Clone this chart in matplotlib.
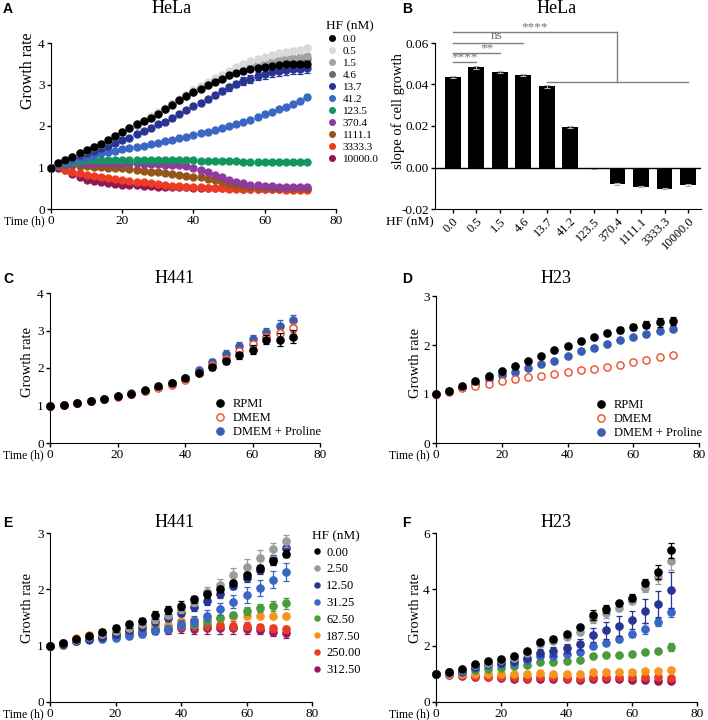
import matplotlib
matplotlib.use("Agg")
import matplotlib.pyplot as plt

plt.rcParams['font.family'] = ['Liberation Serif', 'DejaVu Serif']

# ---------------- data ----------------
t2 = list(range(0, 73, 2))
t4 = list(range(0, 73, 4))

# panel A: HeLa growth, HF (nM)
hf_a = ['0.0', '0.5', '1.5', '4.6', '13.7', '41.2', '123.5', '370.4', '1111.1', '3333.3', '10000.0']
col_a = ['#000000', '#d9d9d9', '#a3a3a3', '#6d6d6d', '#283593', '#3a66c4',
         '#12965e', '#8e3a9e', '#96561a', '#ee3b24', '#921654']
a_00 = [1.00, 1.12, 1.19, 1.26, 1.36, 1.42, 1.50, 1.56, 1.66, 1.76,
        1.85, 1.94, 2.04, 2.11, 2.20, 2.30, 2.40, 2.51, 2.62, 2.72,
        2.82, 2.90, 2.98, 3.06, 3.14, 3.22, 3.28, 3.33, 3.37, 3.40,
        3.43, 3.45, 3.47, 3.49, 3.49, 3.50, 3.50]
a_05 = [1.00, 1.12, 1.19, 1.26, 1.36, 1.42, 1.50, 1.57, 1.66, 1.76,
        1.86, 1.95, 2.05, 2.13, 2.23, 2.33, 2.43, 2.54, 2.64, 2.75,
        2.86, 2.97, 3.06, 3.15, 3.24, 3.33, 3.42, 3.50, 3.56, 3.62,
        3.67, 3.71, 3.75, 3.78, 3.81, 3.84, 3.87]
a_15 = [1.00, 1.12, 1.19, 1.26, 1.36, 1.42, 1.50, 1.57, 1.66, 1.76,
        1.86, 1.95, 2.04, 2.12, 2.22, 2.32, 2.42, 2.53, 2.63, 2.74,
        2.84, 2.93, 3.02, 3.10, 3.18, 3.25, 3.32, 3.38, 3.44, 3.49,
        3.53, 3.57, 3.60, 3.63, 3.65, 3.67, 3.68]
a_46 = [1.00, 1.12, 1.19, 1.26, 1.36, 1.42, 1.50, 1.57, 1.66, 1.75,
        1.85, 1.94, 2.03, 2.11, 2.21, 2.31, 2.41, 2.52, 2.62, 2.73,
        2.83, 2.92, 3.00, 3.08, 3.16, 3.23, 3.30, 3.36, 3.41, 3.46,
        3.50, 3.53, 3.56, 3.58, 3.60, 3.61, 3.62]
a_137 = [1.00, 1.10, 1.18, 1.24, 1.30, 1.35, 1.40, 1.46, 1.52, 1.60,
         1.66, 1.72, 1.80, 1.88, 1.96, 2.04, 2.10, 2.20, 2.30, 2.38,
         2.48, 2.56, 2.65, 2.74, 2.85, 2.93, 3.01, 3.08, 3.14, 3.20,
         3.25, 3.29, 3.33, 3.34, 3.37, 3.38, 3.40]
a_412 = [1.00, 1.08, 1.13, 1.18, 1.22, 1.26, 1.30, 1.34, 1.37, 1.40,
         1.45, 1.47, 1.50, 1.53, 1.56, 1.60, 1.63, 1.66, 1.70, 1.74,
         1.78, 1.82, 1.86, 1.90, 1.95, 2.00, 2.05, 2.10, 2.15, 2.21,
         2.28, 2.34, 2.40, 2.46, 2.53, 2.61, 2.70]
a_1235 = [1.00, 1.08, 1.12, 1.14, 1.16, 1.17, 1.18, 1.18, 1.18, 1.18,
          1.18, 1.18, 1.18, 1.18, 1.18, 1.18, 1.18, 1.18, 1.17, 1.17,
          1.17, 1.16, 1.16, 1.16, 1.15, 1.15, 1.15, 1.14, 1.14, 1.14,
          1.14, 1.13, 1.13, 1.13, 1.13, 1.13, 1.13]
a_3704 = [1.00, 1.06, 1.08, 1.09, 1.10, 1.10, 1.10, 1.10, 1.10, 1.10,
          1.10, 1.10, 1.10, 1.09, 1.09, 1.08, 1.07, 1.06, 1.05, 1.03,
          1.00, 0.95, 0.89, 0.82, 0.76, 0.70, 0.65, 0.62, 0.59, 0.57,
          0.56, 0.55, 0.54, 0.53, 0.53, 0.52, 0.52]
a_11111 = [1.00, 1.05, 1.06, 1.05, 1.04, 1.03, 1.02, 1.01, 1.00, 0.99,
           0.98, 0.96, 0.94, 0.92, 0.90, 0.88, 0.86, 0.84, 0.82, 0.80,
           0.78, 0.76, 0.73, 0.69, 0.65, 0.61, 0.58, 0.56, 0.54, 0.53,
           0.52, 0.51, 0.51, 0.50, 0.50, 0.50, 0.50]
a_33333 = [1.00, 1.03, 0.95, 0.90, 0.86, 0.82, 0.79, 0.76, 0.74, 0.72,
           0.70, 0.68, 0.66, 0.64, 0.62, 0.60, 0.58, 0.56, 0.55, 0.54,
           0.53, 0.52, 0.51, 0.50, 0.50, 0.49, 0.49, 0.48, 0.48, 0.48,
           0.47, 0.47, 0.47, 0.46, 0.46, 0.46, 0.46]
a_100000 = [1.00, 1.00, 0.93, 0.84, 0.76, 0.70, 0.67, 0.64, 0.62, 0.60,
            0.59, 0.58, 0.57, 0.56, 0.55, 0.54, 0.53, 0.53, 0.52, 0.52,
            0.51, 0.51, 0.50, 0.50, 0.50, 0.50, 0.50, 0.49, 0.49, 0.49,
            0.49, 0.49, 0.49, 0.48, 0.48, 0.48, 0.48]
e_a05 = [0.00, 0.01, 0.01, 0.01, 0.01, 0.01, 0.01, 0.01, 0.01, 0.01,
         0.01, 0.01, 0.02, 0.02, 0.02, 0.02, 0.02, 0.02, 0.03, 0.03,
         0.03, 0.03, 0.03, 0.04, 0.04, 0.04, 0.04, 0.05, 0.05, 0.05,
         0.05, 0.05, 0.05, 0.06, 0.06, 0.06, 0.06]
e_a137 = [0.00, 0.01, 0.01, 0.01, 0.01, 0.01, 0.01, 0.01, 0.02, 0.02,
          0.02, 0.02, 0.02, 0.02, 0.03, 0.03, 0.03, 0.03, 0.04, 0.04,
          0.05, 0.05, 0.06, 0.06, 0.07, 0.08, 0.08, 0.09, 0.10, 0.10,
          0.11, 0.11, 0.12, 0.12, 0.12, 0.13, 0.13]
vals_a = [a_00, a_05, a_15, a_46, a_137, a_412, a_1235, a_3704, a_11111, a_33333, a_100000]
errs_a = [None, e_a05, None, None, e_a137, None, None, None, None, None, None]

# panel B: slope of cell growth
slope_b = [0.0436, 0.0482, 0.0459, 0.0446, 0.0391, 0.0195, -0.0003, -0.0080, -0.0093, -0.0103, -0.0084]
slope_err_b = [0.0004, 0.0005, 0.0004, 0.0004, 0.0006, 0.0003, 0.0002, 0.0004, 0.0003, 0.0003, 0.0004]
# (from bar, to bar, line y, text x, text y, text)
sig_b = [(0, 1, 0.0507, 0.5, 0.0502, '****'),
         (0, 2, 0.0552, 1.45, 0.0547, '**'),
         (0, 3, 0.0602, 1.85, 0.0603, 'ns'),
         (0, 7, 0.0654, 3.5, 0.0649, '****')]
group_b = (4, 10, 0.0411)

# panels C/D: media
media = ['RPMI', 'DMEM', 'DMEM + Proline']
rpmi_c = [1.00, 1.02, 1.07, 1.11, 1.17, 1.25, 1.32, 1.41, 1.51, 1.61, 1.74, 1.87, 2.03, 2.19, 2.34, 2.49, 2.76, 2.76, 2.84]
rpmi_c_err = [0.01, 0.01, 0.01, 0.02, 0.02, 0.02, 0.03, 0.03, 0.03, 0.04, 0.04, 0.05, 0.07, 0.08, 0.10, 0.12, 0.12, 0.18, 0.17]
dmem_c = [1.00, 1.01, 1.07, 1.12, 1.18, 1.24, 1.32, 1.38, 1.46, 1.56, 1.69, 1.87, 2.07, 2.25, 2.45, 2.63, 2.83, 2.94, 3.08]
dmem_c_err = [0.01, 0.01, 0.01, 0.01, 0.02, 0.02, 0.02, 0.02, 0.03, 0.03, 0.03, 0.04, 0.05, 0.06, 0.08, 0.09, 0.10, 0.11, 0.12]
pro_c = [1.00, 1.01, 1.07, 1.13, 1.18, 1.25, 1.33, 1.40, 1.50, 1.60, 1.73, 1.94, 2.16, 2.38, 2.58, 2.77, 2.95, 3.13, 3.28]
pro_c_err = [0.01, 0.01, 0.01, 0.01, 0.02, 0.02, 0.02, 0.03, 0.03, 0.03, 0.04, 0.05, 0.07, 0.09, 0.11, 0.12, 0.13, 0.15, 0.14]

rpmi_d = [1.00, 1.07, 1.17, 1.26, 1.36, 1.47, 1.57, 1.68, 1.78, 1.89, 1.97, 2.09, 2.16, 2.24, 2.31, 2.36, 2.41, 2.46, 2.49]
rpmi_d_err = [0.01, 0.01, 0.02, 0.02, 0.02, 0.02, 0.02, 0.02, 0.02, 0.03, 0.03, 0.03, 0.03, 0.04, 0.06, 0.06, 0.07, 0.09, 0.09]
dmem_d = [1.00, 1.05, 1.12, 1.17, 1.21, 1.26, 1.30, 1.34, 1.37, 1.41, 1.45, 1.49, 1.52, 1.56, 1.60, 1.65, 1.70, 1.75, 1.80]
dmem_d_err = [0.01, 0.01, 0.01, 0.01, 0.01, 0.01, 0.01, 0.01, 0.01, 0.01, 0.01, 0.01, 0.01, 0.01, 0.02, 0.02, 0.02, 0.02, 0.02]
pro_d = [1.00, 1.07, 1.15, 1.21, 1.30, 1.39, 1.45, 1.53, 1.61, 1.68, 1.78, 1.87, 1.93, 2.02, 2.10, 2.16, 2.22, 2.28, 2.32]
pro_d_err = [0.01, 0.01, 0.01, 0.01, 0.02, 0.02, 0.02, 0.02, 0.02, 0.02, 0.02, 0.02, 0.02, 0.03, 0.03, 0.03, 0.04, 0.04, 0.04]

# panels E/F: HF (nM)
hf_ef = ['0.00', '2.50', '12.50', '31.25', '62.50', '187.50', '250.00', '312.50']
col_ef = ['#000000', '#9b9b9b', '#283593', '#3a66c4', '#4c9a3c', '#f7941d', '#e8392a', '#95195a']
e_000 = [1.00, 1.05, 1.12, 1.18, 1.24, 1.31, 1.38, 1.44, 1.54, 1.63, 1.71, 1.82, 1.91, 2.01, 2.12, 2.25, 2.37, 2.50, 2.63]
e_250 = [1.00, 1.04, 1.10, 1.15, 1.20, 1.26, 1.32, 1.38, 1.47, 1.55, 1.65, 1.78, 1.95, 2.08, 2.25, 2.40, 2.55, 2.71, 2.86]
e_1250 = [1.00, 1.03, 1.09, 1.12, 1.16, 1.20, 1.27, 1.33, 1.42, 1.50, 1.58, 1.68, 1.80, 1.92, 2.06, 2.20, 2.35, 2.53, 2.73]
e_3125 = [1.00, 1.03, 1.08, 1.10, 1.11, 1.14, 1.17, 1.20, 1.26, 1.30, 1.38, 1.44, 1.53, 1.65, 1.78, 1.90, 2.03, 2.17, 2.31]
e_6250 = [1.00, 1.03, 1.09, 1.12, 1.15, 1.18, 1.20, 1.22, 1.27, 1.30, 1.36, 1.38, 1.44, 1.49, 1.55, 1.61, 1.67, 1.71, 1.75]
e_18750 = [1.00, 1.05, 1.13, 1.19, 1.22, 1.22, 1.28, 1.31, 1.35, 1.37, 1.43, 1.45, 1.49, 1.50, 1.52, 1.53, 1.52, 1.52, 1.52]
e_25000 = [1.00, 1.04, 1.10, 1.15, 1.18, 1.20, 1.24, 1.26, 1.30, 1.32, 1.35, 1.36, 1.36, 1.37, 1.35, 1.35, 1.33, 1.31, 1.29]
e_31250 = [1.00, 1.02, 1.08, 1.12, 1.15, 1.18, 1.21, 1.24, 1.27, 1.28, 1.31, 1.30, 1.32, 1.31, 1.31, 1.29, 1.27, 1.25, 1.22]
e_000_err = [0.01, 0.02, 0.03, 0.04, 0.05, 0.06, 0.06, 0.06, 0.07, 0.07, 0.08, 0.06, 0.06, 0.05, 0.05, 0.06, 0.07, 0.06, 0.06]
e_250_err = [0.01, 0.02, 0.02, 0.03, 0.04, 0.05, 0.05, 0.05, 0.06, 0.06, 0.07, 0.07, 0.09, 0.10, 0.13, 0.14, 0.14, 0.11, 0.10]
e_1250_err = [0.01, 0.02, 0.02, 0.03, 0.04, 0.04, 0.05, 0.05, 0.06, 0.06, 0.06, 0.06, 0.07, 0.07, 0.06, 0.07, 0.07, 0.08, 0.10]
e_3125_err = [0.01, 0.02, 0.02, 0.02, 0.03, 0.04, 0.04, 0.05, 0.06, 0.07, 0.08, 0.09, 0.10, 0.11, 0.12, 0.15, 0.14, 0.15, 0.16]
e_6250_err = [0.01, 0.01, 0.02, 0.02, 0.02, 0.03, 0.03, 0.04, 0.05, 0.05, 0.06, 0.07, 0.06, 0.06, 0.05, 0.07, 0.07, 0.09, 0.10]
e_18750_err = [0.01, 0.01, 0.02, 0.02, 0.02, 0.03, 0.03, 0.04, 0.05, 0.05, 0.05, 0.04, 0.04, 0.04, 0.04, 0.03, 0.03, 0.03, 0.03]
e_25000_err = [0.01, 0.01, 0.02, 0.02, 0.03, 0.03, 0.04, 0.05, 0.06, 0.07, 0.08, 0.09, 0.09, 0.08, 0.08, 0.07, 0.06, 0.06, 0.06]
e_31250_err = [0.01, 0.01, 0.02, 0.02, 0.03, 0.03, 0.04, 0.05, 0.07, 0.08, 0.09, 0.10, 0.11, 0.10, 0.10, 0.09, 0.07, 0.08, 0.08]
vals_e = [e_000, e_250, e_1250, e_3125, e_6250, e_18750, e_25000, e_31250]
errs_e = [e_000_err, e_250_err, e_1250_err, e_3125_err, e_6250_err, e_18750_err, e_25000_err, e_31250_err]

f_000 = [1.00, 1.08, 1.16, 1.36, 1.45, 1.54, 1.65, 1.80, 2.14, 2.25, 2.43, 2.65, 3.08, 3.30, 3.50, 3.70, 4.23, 4.60, 5.38]
f_250 = [1.00, 1.06, 1.12, 1.30, 1.40, 1.48, 1.57, 1.73, 2.05, 2.18, 2.30, 2.50, 2.95, 3.15, 3.33, 3.60, 4.05, 4.45, 5.00]
f_1250 = [1.00, 1.05, 1.10, 1.25, 1.35, 1.40, 1.45, 1.55, 1.75, 1.80, 1.90, 2.05, 2.38, 2.55, 2.70, 2.90, 3.22, 3.48, 3.97]
f_3125 = [1.00, 1.05, 1.08, 1.20, 1.30, 1.35, 1.40, 1.50, 1.65, 1.65, 1.70, 1.78, 2.00, 2.10, 2.22, 2.40, 2.60, 2.85, 3.18]
f_6250 = [1.00, 1.03, 1.06, 1.15, 1.18, 1.22, 1.27, 1.30, 1.42, 1.43, 1.47, 1.50, 1.65, 1.67, 1.67, 1.72, 1.78, 1.82, 1.95]
f_18750 = [1.00, 1.00, 0.98, 1.00, 1.00, 1.00, 0.98, 0.98, 1.02, 1.00, 1.00, 1.00, 1.07, 1.07, 1.07, 1.08, 1.10, 1.10, 1.15]
f_25000 = [1.00, 0.98, 0.95, 0.92, 0.90, 0.88, 0.87, 0.85, 0.88, 0.87, 0.86, 0.85, 0.88, 0.88, 0.88, 0.87, 0.88, 0.87, 0.86]
f_31250 = [1.00, 0.97, 0.93, 0.90, 0.87, 0.84, 0.82, 0.80, 0.82, 0.80, 0.80, 0.78, 0.82, 0.80, 0.80, 0.78, 0.78, 0.76, 0.73]
f_000_err = [0.01, 0.02, 0.03, 0.04, 0.04, 0.05, 0.05, 0.06, 0.06, 0.06, 0.06, 0.06, 0.18, 0.15, 0.08, 0.12, 0.12, 0.25, 0.28]
f_250_err = [0.01, 0.02, 0.02, 0.03, 0.03, 0.04, 0.04, 0.05, 0.05, 0.05, 0.06, 0.10, 0.15, 0.15, 0.10, 0.10, 0.15, 0.25, 0.30]
f_1250_err = [0.01, 0.02, 0.02, 0.03, 0.04, 0.05, 0.05, 0.08, 0.12, 0.15, 0.15, 0.20, 0.25, 0.30, 0.35, 0.32, 0.42, 0.45, 0.65]
f_3125_err = [0.01, 0.02, 0.02, 0.03, 0.03, 0.04, 0.04, 0.05, 0.05, 0.05, 0.06, 0.06, 0.08, 0.08, 0.08, 0.10, 0.20, 0.15, 0.15]
f_6250_err = [0.01, 0.01, 0.02, 0.02, 0.02, 0.02, 0.03, 0.03, 0.03, 0.03, 0.03, 0.03, 0.03, 0.04, 0.04, 0.04, 0.05, 0.06, 0.15]
f_18750_err = [0.01, 0.01, 0.01, 0.01, 0.01, 0.01, 0.01, 0.01, 0.01, 0.01, 0.01, 0.01, 0.02, 0.02, 0.02, 0.02, 0.02, 0.02, 0.03]
f_25000_err = [0.01, 0.01, 0.01, 0.01, 0.01, 0.01, 0.01, 0.01, 0.01, 0.01, 0.01, 0.01, 0.02, 0.02, 0.02, 0.02, 0.02, 0.02, 0.03]
f_31250_err = [0.01, 0.01, 0.01, 0.01, 0.01, 0.01, 0.01, 0.01, 0.01, 0.01, 0.01, 0.01, 0.02, 0.02, 0.02, 0.02, 0.02, 0.02, 0.03]
vals_f = [f_000, f_250, f_1250, f_3125, f_6250, f_18750, f_25000, f_31250]
errs_f = [f_000_err, f_250_err, f_1250_err, f_3125_err, f_6250_err, f_18750_err, f_25000_err, f_31250_err]

# ---------------- layout helpers (pixel positions) ----------------
W, H = 708, 720
fig = plt.figure(figsize=(W / 100, H / 100), dpi=100)


def fx(px):
    return px / W


def fy(py):
    return 1 - py / H


def make_ax(l, t, r, b):
    ax = fig.add_axes([fx(l), fy(b), (r - l) / W, (b - t) / H])
    ax.spines[['top', 'right']].set_visible(False)
    ax.tick_params(direction='out', length=3, width=1, labelsize=9.5, pad=1.5)
    return ax


def time_axes(ax, l, b, ymax, yticks, ylab_x, ylab_y, ylab_size=10.5):
    ax.set_xlim(0, 80)
    ax.set_xticks([0, 20, 40, 60, 80])
    ax.set_ylim(0, ymax)
    ax.set_yticks(yticks)
    ax.set_xlabel('Time (h)', fontsize=8.5, ha='right', va='top')
    ax.xaxis.set_label_coords(fx(l - 6), fy(b + 6), transform=fig.transFigure)
    ax.set_ylabel('Growth rate', fontsize=ylab_size)
    ax.yaxis.set_label_coords(fx(ylab_x), fy(ylab_y), transform=fig.transFigure)


def draw(ax, t, y, err, color, z, ms=5.2, open_marker=False):
    kw = dict(fmt='o', color=color, ms=ms, mec=color, capsize=2.2,
              elinewidth=0.9, capthick=0.9, zorder=z, clip_on=False)
    if open_marker:
        kw['mfc'] = 'white'
        kw['mew'] = 1.0
    c = ax.errorbar(t, y, yerr=err, **kw)
    return c[0]


def panel_text(x, y, letter, title, tx):
    fig.text(fx(x), fy(y), letter, family=['Liberation Sans', 'DejaVu Sans'],
             fontweight='bold', fontsize=10, va='baseline')
    fig.text(fx(tx), fy(y), title, fontsize=13, ha='center', va='baseline')


# ---------------- A ----------------
ax = make_ax(51, 43, 336, 209)
time_axes(ax, 51, 209, 4, [0, 1, 2, 3, 4], 36, 71, ylab_size=11.5)
handles = [None] * len(vals_a)
for i in reversed(range(len(vals_a))):
    handles[i] = draw(ax, t2, vals_a[i], errs_a[i], col_a[i], 10 + len(vals_a) - i, ms=5)
leg = ax.legend(handles, hf_a, title='HF (nM)', frameon=False, fontsize=8,
                title_fontsize=9.5, alignment='left', loc='upper left',
                bbox_to_anchor=(fx(326), fy(20)), bbox_transform=fig.transFigure,
                borderpad=0, borderaxespad=0, handlelength=1.0, handletextpad=0.5,
                labelspacing=0.2, markerscale=0.8)
panel_text(3, 13, 'A', 'HeLa', 172)

# ---------------- B ----------------
ax = make_ax(435, 43, 701, 209)
xb = list(range(len(hf_a)))
ax.bar(xb, slope_b, width=0.67, color='black', yerr=slope_err_b,
       error_kw=dict(ecolor='#b0b0b0', capsize=2, elinewidth=0.8, capthick=0.8))
ax.axhline(0, color='black', lw=1)
ax.set_xlim(-0.75, 10.55)
ax.set_ylim(-0.02, 0.06)
ax.set_yticks([-0.02, 0.0, 0.02, 0.04, 0.06])
ax.set_yticklabels(['-0.02', '0.00', '0.02', '0.04', '0.06'], fontsize=9.5)
ax.set_xticks(xb)
ax.set_xticklabels(hf_a, rotation=45, ha='right', va='top', rotation_mode='anchor', fontsize=9)
ax.set_ylabel('slope of cell growth', fontsize=10.5)
ax.yaxis.set_label_coords(fx(405), fy(111), transform=fig.transFigure)
ax.set_xlabel('HF (nM)', fontsize=9.5, ha='right', va='center')
ax.xaxis.set_label_coords(fx(434), fy(222), transform=fig.transFigure)
for a0, a1, ly, tx, ty, s in sig_b:
    ax.plot([a0, a1], [ly, ly], color='#808080', lw=1, clip_on=False)
    ax.text(tx, ty, s, color='#707070', fontsize=9.5, ha='center', va='bottom')
ax.plot([sig_b[-1][1], sig_b[-1][1]], [sig_b[-1][2], group_b[2]], color='#808080', lw=1, clip_on=False)
ax.plot([group_b[0], group_b[1]], [group_b[2], group_b[2]], color='#808080', lw=1)
panel_text(402, 13, 'B', 'HeLa', 557)

# ---------------- C / D ----------------
for (l, t, r, b, ymax, yt, ylx, yly, rp, rpe, dm, dme, pr, pre, lx, ly, letter, title, tx) in [
        (50, 293, 320, 443, 4, [0, 1, 2, 3, 4], 34, 362, rpmi_c, rpmi_c_err, dmem_c, dmem_c_err,
         pro_c, pro_c_err, 214, 398, 'C', 'H441', 175),
        (436, 296, 699, 443, 3, [0, 1, 2, 3], 422, 363, rpmi_d, rpmi_d_err, dmem_d, dmem_d_err,
         pro_d, pro_d_err, 595, 399, 'D', 'H23', 556)]:
    ax = make_ax(l, t, r, b)
    time_axes(ax, l, b, ymax, yt, ylx, yly)
    h3 = draw(ax, t4, pr, pre, '#3a5cb5', 10)
    h2 = draw(ax, t4, dm, dme, '#f0492b', 11, open_marker=True)
    h1 = draw(ax, t4, rp, rpe, '#000000', 12)
    ax.legend([h1, h2, h3], media, frameon=False, fontsize=9, loc='upper left',
              bbox_to_anchor=(fx(lx), fy(ly)), bbox_transform=fig.transFigure,
              borderpad=0, borderaxespad=0, handlelength=1.0, handletextpad=0.5,
              labelspacing=0.17)
    panel_text(3 if letter == 'C' else 402, 283, letter, title, tx)

# ---------------- E / F ----------------
for (l, t, r, b, ymax, yt, ylx, vals, errs, letter, title, tx, with_leg) in [
        (50, 533, 312, 702, 3, [0, 1, 2, 3], 34, vals_e, errs_e, 'E', 'H441', 175, True),
        (436, 533, 697, 702, 6, [0, 2, 4, 6], 422, vals_f, errs_f, 'F', 'H23', 556, False)]:
    ax = make_ax(l, t, r, b)
    time_axes(ax, l, b, ymax, yt, ylx, 608)
    hs = [None] * len(vals)
    for i in reversed(range(len(vals))):
        hs[i] = draw(ax, t4, vals[i], errs[i], col_ef[i], 10 + len(vals) - i)
    if with_leg:
        ax.legend(hs, hf_ef, title='HF (nM)', frameon=False, fontsize=9,
                  title_fontsize=9.5, alignment='left', loc='upper left',
                  bbox_to_anchor=(fx(312), fy(530)), bbox_transform=fig.transFigure,
                  borderpad=0, borderaxespad=0, handlelength=0.8, handletextpad=0.35,
                  labelspacing=0.38, markerscale=0.7)
    panel_text(3 if letter == 'E' else 402, 527, letter, title, tx)

fig.savefig('out.png', dpi=100)
